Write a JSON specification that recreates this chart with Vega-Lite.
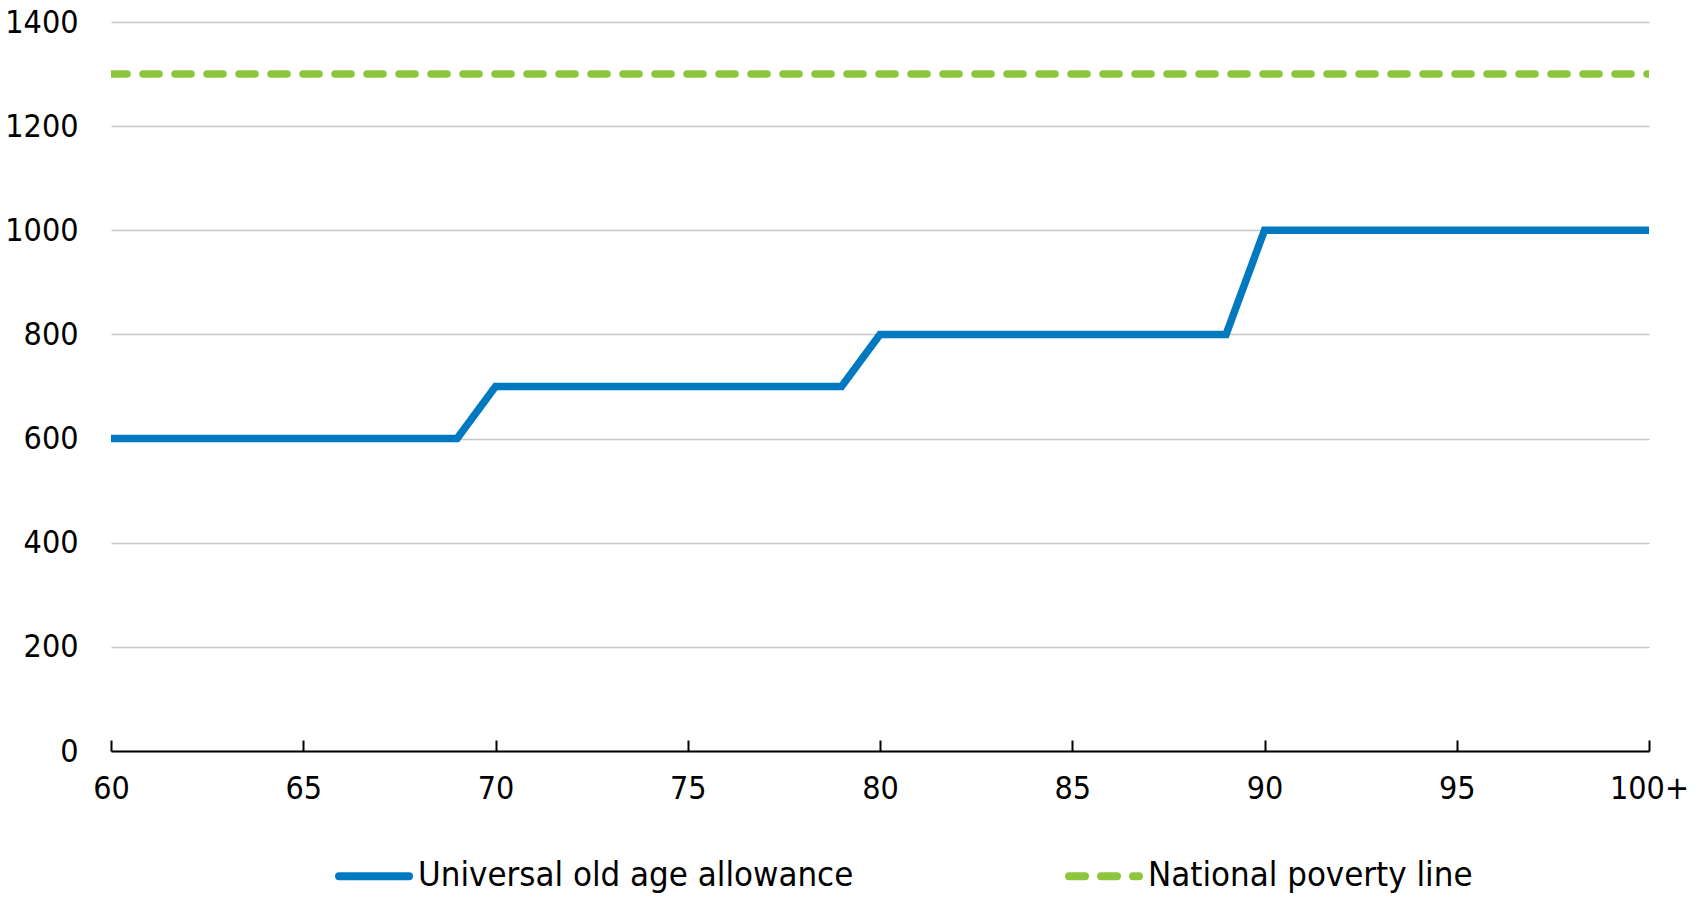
{
  "$schema": "https://vega.github.io/schema/vega-lite/v6.json",
  "width": 1538,
  "height": 729,
  "autosize": {"type": "none"},
  "padding": {"left": 111, "top": 22, "right": 49, "bottom": 149},
  "background": "white",
  "config": {
    "view": {"stroke": null},
    "font": "DejaVu Sans Condensed, Liberation Sans, sans-serif",
    "axis": {"labelFont": "DejaVu Sans Condensed, Liberation Sans, sans-serif", "labelColor": "#000000"},
    "legend": {"labelFont": "DejaVu Sans Condensed, Liberation Sans, sans-serif"}
  },
  "data": {
    "values": [
      {"age": 60, "value": 600, "series": "Universal old age allowance"},
      {"age": 61, "value": 600, "series": "Universal old age allowance"},
      {"age": 62, "value": 600, "series": "Universal old age allowance"},
      {"age": 63, "value": 600, "series": "Universal old age allowance"},
      {"age": 64, "value": 600, "series": "Universal old age allowance"},
      {"age": 65, "value": 600, "series": "Universal old age allowance"},
      {"age": 66, "value": 600, "series": "Universal old age allowance"},
      {"age": 67, "value": 600, "series": "Universal old age allowance"},
      {"age": 68, "value": 600, "series": "Universal old age allowance"},
      {"age": 69, "value": 600, "series": "Universal old age allowance"},
      {"age": 70, "value": 700, "series": "Universal old age allowance"},
      {"age": 71, "value": 700, "series": "Universal old age allowance"},
      {"age": 72, "value": 700, "series": "Universal old age allowance"},
      {"age": 73, "value": 700, "series": "Universal old age allowance"},
      {"age": 74, "value": 700, "series": "Universal old age allowance"},
      {"age": 75, "value": 700, "series": "Universal old age allowance"},
      {"age": 76, "value": 700, "series": "Universal old age allowance"},
      {"age": 77, "value": 700, "series": "Universal old age allowance"},
      {"age": 78, "value": 700, "series": "Universal old age allowance"},
      {"age": 79, "value": 700, "series": "Universal old age allowance"},
      {"age": 80, "value": 800, "series": "Universal old age allowance"},
      {"age": 81, "value": 800, "series": "Universal old age allowance"},
      {"age": 82, "value": 800, "series": "Universal old age allowance"},
      {"age": 83, "value": 800, "series": "Universal old age allowance"},
      {"age": 84, "value": 800, "series": "Universal old age allowance"},
      {"age": 85, "value": 800, "series": "Universal old age allowance"},
      {"age": 86, "value": 800, "series": "Universal old age allowance"},
      {"age": 87, "value": 800, "series": "Universal old age allowance"},
      {"age": 88, "value": 800, "series": "Universal old age allowance"},
      {"age": 89, "value": 800, "series": "Universal old age allowance"},
      {"age": 90, "value": 1000, "series": "Universal old age allowance"},
      {"age": 91, "value": 1000, "series": "Universal old age allowance"},
      {"age": 92, "value": 1000, "series": "Universal old age allowance"},
      {"age": 93, "value": 1000, "series": "Universal old age allowance"},
      {"age": 94, "value": 1000, "series": "Universal old age allowance"},
      {"age": 95, "value": 1000, "series": "Universal old age allowance"},
      {"age": 96, "value": 1000, "series": "Universal old age allowance"},
      {"age": 97, "value": 1000, "series": "Universal old age allowance"},
      {"age": 98, "value": 1000, "series": "Universal old age allowance"},
      {"age": 99, "value": 1000, "series": "Universal old age allowance"},
      {"age": 100, "value": 1000, "series": "Universal old age allowance"},
      {"age": 60, "value": 1300, "series": "National poverty line"},
      {"age": 65, "value": 1300, "series": "National poverty line"},
      {"age": 70, "value": 1300, "series": "National poverty line"},
      {"age": 75, "value": 1300, "series": "National poverty line"},
      {"age": 80, "value": 1300, "series": "National poverty line"},
      {"age": 85, "value": 1300, "series": "National poverty line"},
      {"age": 90, "value": 1300, "series": "National poverty line"},
      {"age": 95, "value": 1300, "series": "National poverty line"},
      {"age": 100, "value": 1300, "series": "National poverty line"}
    ]
  },
  "mark": {"type": "line", "strokeWidth": 7.5, "strokeCap": "round", "strokeJoin": "miter", "clip": true},
  "encoding": {
    "x": {
      "field": "age",
      "type": "quantitative",
      "scale": {"domain": [60, 100], "nice": false, "zero": false},
      "axis": {
        "title": null,
        "values": [60, 65, 70, 75, 80, 85, 90, 95, 100],
        "labelExpr": "datum.value == 100 ? '100+' : datum.label",
        "grid": false,
        "domainColor": "#000000",
        "domainWidth": 2,
        "tickColor": "#000000",
        "tickWidth": 2,
        "tickSize": -11,
        "labelFontSize": 32,
        "labelPadding": 33,
        "labelFlush": false,
        "labelOverlap": false
      }
    },
    "y": {
      "field": "value",
      "type": "quantitative",
      "scale": {"domain": [0, 1400], "nice": false},
      "axis": {
        "title": null,
        "values": [0, 200, 400, 600, 800, 1000, 1200, 1400],
        "format": "d",
        "domain": false,
        "ticks": false,
        "gridColor": "#C8C8C8",
        "gridWidth": 1.5,
        "labelFontSize": 32,
        "labelPadding": 33
      }
    },
    "color": {
      "field": "series",
      "type": "nominal",
      "scale": {
        "domain": ["Universal old age allowance", "National poverty line"],
        "range": ["#0079C1", "#8CC63F"]
      },
      "legend": {
        "title": null,
        "orient": "none",
        "direction": "horizontal",
        "legendX": 224,
        "legendY": 815,
        "padding": 0,
        "symbolType": "stroke",
        "symbolSize": 4900,
        "symbolStrokeWidth": 8,
        "labelFontSize": 34.5,
        "labelColor": "#000000",
        "labelOffset": 5,
        "labelLimit": 0,
        "columnPadding": 199,
        "encode": {"symbols": {"update": {"strokeCap": {"value": "round"}}}}
      }
    },
    "strokeDash": {
      "field": "series",
      "type": "nominal",
      "scale": {
        "domain": ["Universal old age allowance", "National poverty line"],
        "range": [[1, 0], [16, 16]]
      },
      "legend": null
    }
  }
}
